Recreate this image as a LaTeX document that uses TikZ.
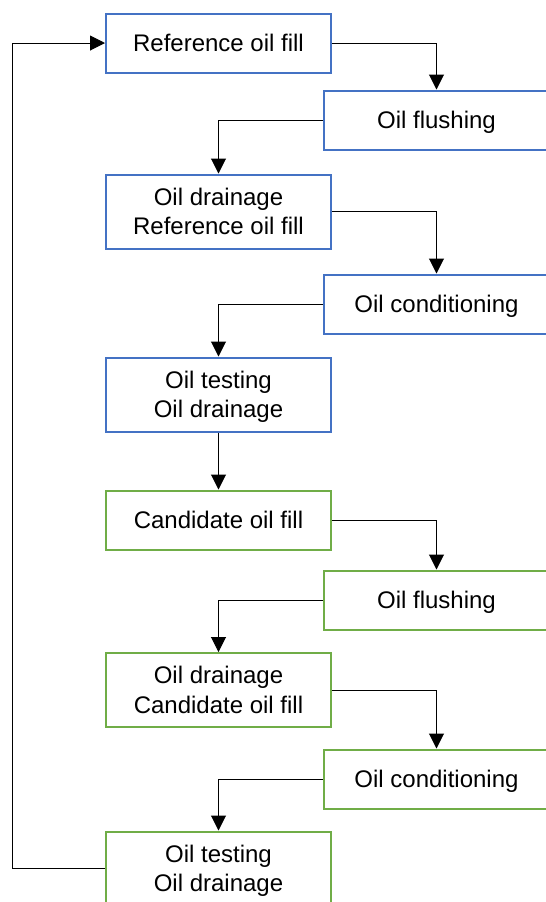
\documentclass[tikz,border=0pt]{standalone}
\usepackage{fontspec}
\setmainfont{Liberation Sans}
\usetikzlibrary{arrows.meta}
\definecolor{boxblue}{RGB}{68,114,196}
\definecolor{boxgreen}{RGB}{112,173,71}
\tikzset{
  stepbox/.style={draw, line width=1pt, fill=white, minimum width=112.5pt, inner sep=0pt, align=center,
    font=\fontsize{12}{14.7}\selectfont, text depth=2.5pt},
  onebox/.style={stepbox, minimum height=29.5pt, text height=10.9pt},
  twobox/.style={stepbox, minimum height=37pt, text height=25.6pt},
  bluebox/.style={draw=boxblue},
  greenbox/.style={draw=boxgreen},
  arr/.style={line width=0.5pt, -{Triangle[width=7.4pt,length=7.4pt]}},
}
\begin{document}
\begin{tikzpicture}
\clip (0,0) rectangle (273pt,-451pt);
\fill[white] (0,0) rectangle (273pt,-451pt);
\node[onebox,bluebox] (b1) at (109.25pt,-21.5pt) {Reference oil fill};
\node[onebox,bluebox] (b2) at (218.25pt,-60pt) {Oil flushing};
\node[twobox,bluebox] (b3) at (109.25pt,-105.75pt) {Oil drainage\\Reference oil fill};
\node[onebox,bluebox] (b4) at (218.25pt,-152pt) {Oil conditioning};
\node[twobox,bluebox] (b5) at (109.25pt,-197.25pt) {Oil testing\\Oil drainage};
\node[onebox,greenbox] (b6) at (109.25pt,-260pt) {Candidate oil fill};
\node[onebox,greenbox] (b7) at (218.25pt,-300pt) {Oil flushing};
\node[twobox,greenbox] (b8) at (109.25pt,-345pt) {Oil drainage\\Candidate oil fill};
\node[onebox,greenbox] (b9) at (218.25pt,-389.5pt) {Oil conditioning};
\node[twobox,greenbox] (b10) at (109.25pt,-434.25pt) {Oil testing\\Oil drainage};
\coordinate (L) at (6pt,0);
\draw[arr] (b1.east) -| (b2.north);
\draw[arr] (b2.west) -| (b3.north);
\draw[arr] (b3.east) -| (b4.north);
\draw[arr] (b4.west) -| (b5.north);
\draw[arr] (b5.south) -- (b6.north);
\draw[arr] (b6.east) -| (b7.north);
\draw[arr] (b7.west) -| (b8.north);
\draw[arr] (b8.east) -| (b9.north);
\draw[arr] (b9.west) -| (b10.north);
\draw[arr] (b10.west) -- (b10.west -| L) |- (b1.west);
\end{tikzpicture}
\end{document}
